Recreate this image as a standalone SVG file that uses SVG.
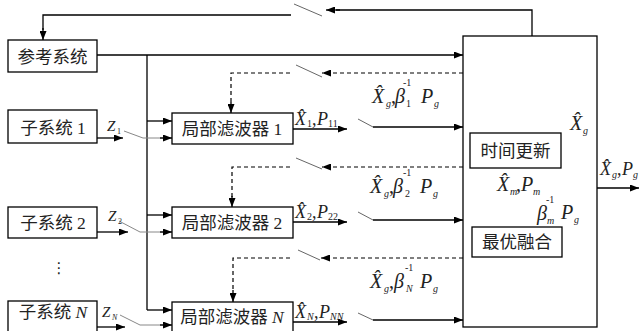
<svg xmlns="http://www.w3.org/2000/svg" width="639" height="331" viewBox="0 0 639 331">
<defs>
<marker id="ah" markerWidth="9" markerHeight="7" refX="9" refY="3.5" orient="auto" markerUnits="userSpaceOnUse">
<path d="M0,0 L9,3.5 L0,7 z" fill="#000"/>
</marker>
<marker id="ahb" markerWidth="10" markerHeight="10" refX="10" refY="5" orient="auto" markerUnits="userSpaceOnUse">
<path d="M0,0 L10,5 L0,10 z" fill="#000"/>
</marker>
</defs>
<style>
.box{fill:#fff;stroke:#000;stroke-width:1.3}
.ln{fill:none;stroke:#000;stroke-width:1.3}
.ar{fill:none;stroke:#000;stroke-width:1.3;marker-end:url(#ah)}
.da{fill:none;stroke:#000;stroke-width:1.2;stroke-dasharray:4,3}
.dar{fill:none;stroke:#000;stroke-width:1.2;stroke-dasharray:4,3;marker-end:url(#ah)}
.sw{fill:none;stroke:#555;stroke-width:0.9}
.gz{fill:none;stroke:#888;stroke-width:1}
.cn{font-family:"Liberation Serif","Noto Sans CJK SC",serif;font-size:17.5px;fill:#222;text-anchor:middle}
.m{font-family:"Liberation Serif",serif;font-style:italic;font-size:20px;fill:#222}
.m2{font-family:"Liberation Serif",serif;font-style:italic;font-size:18px;fill:#222}
.z{font-family:"Liberation Serif",serif;font-style:italic;font-size:15px;fill:#222}
.r{font-style:normal}
.s{font-size:10px}
.t{font-size:8px}
</style>

<g id="connectors">
<path class="ln" d="M532,36 V10 H336"/>
<path class="ar" d="M340,10 H326"/>
<path class="sw" d="M294,4 L322,16"/>
<path class="ln" d="M291,15 H43 V30"/>
<path class="ar" d="M43,28 V40"/>
<path class="ar" d="M97,55 H463"/>
<path class="ln" d="M147,55 V310"/>
<path class="ar" d="M147,121 H172"/>
<path class="ar" d="M147,215 H172"/>
<path class="ar" d="M147,310 H172"/>
<path class="ar" d="M97,138 H123"/>
<path class="gz" d="M124,131 L143,138 H165"/>
<path class="ar" d="M160,138 H172"/>
<path class="ar" d="M97,232 H128"/>
<path class="gz" d="M119,221 L140,232 H165"/>
<path class="ar" d="M160,232 H172"/>
<path class="ar" d="M97,327 H125"/>
<path class="gz" d="M120,315 L140,325 H165"/>
<path class="ar" d="M160,325 H172"/>
<path class="ar" d="M293,129 H347"/>
<path class="sw" d="M358,119 L373,127"/>
<path class="ar" d="M373,127 H463"/>
<path class="ar" d="M293,222 H347"/>
<path class="sw" d="M358,212 L373,220"/>
<path class="ar" d="M373,220 H463"/>
<path class="ar" d="M293,322 H347"/>
<path class="sw" d="M358,313 L373,320"/>
<path class="ar" d="M373,320 H463"/>
<path class="dar" d="M463,73 H322"/>
<path class="sw" d="M296,65 L322,77"/>
<path class="da" d="M290,73 H231 V104"/>
<path class="ar" d="M231,102 V113"/>
<path class="dar" d="M463,167 H322"/>
<path class="sw" d="M296,158 L322,169"/>
<path class="da" d="M290,167 H232 V198"/>
<path class="ar" d="M232,196 V207"/>
<path class="dar" d="M463,258 H321"/>
<path class="sw" d="M298,250 L320,260"/>
<path class="da" d="M290,258 H233 V292"/>
<path class="ar" d="M233,290 V302"/>
<path class="ar" d="M496,168 V227" style="marker-end:url(#ahb)"/>
<path class="ln" d="M562,242 H589 V147 H572"/>
<path class="ar" d="M574,147 H562"/>
<path class="ar" d="M597,188 H639"/>
</g>

<g id="ref-system"><rect class="box" x="8" y="40" width="89" height="32"/><text class="cn" x="52.5" y="63">参考系统</text></g>
<g id="subsystem-1"><rect class="box" x="8" y="110" width="89" height="33"/><text class="cn" x="53" y="134">子系统 1</text></g>
<g id="subsystem-2"><rect class="box" x="8" y="207" width="89" height="31"/><text class="cn" x="53" y="229">子系统 2</text></g>
<g id="dots"><text x="59" y="273" style="font-family:'DejaVu Sans',sans-serif;font-size:15px;fill:#222;text-anchor:middle">⋮</text></g>
<g id="subsystem-n"><rect class="box" x="8" y="301" width="89" height="40"/><text class="cn" x="53" y="318">子系统 <tspan font-style="italic">N</tspan></text></g>

<g id="local-filter-1"><rect class="box" x="172" y="113" width="121" height="31"/><text class="cn" x="232" y="135">局部滤波器 1</text></g>
<g id="local-filter-2"><rect class="box" x="172" y="207" width="121" height="31"/><text class="cn" x="232" y="229">局部滤波器 2</text></g>
<g id="local-filter-n"><rect class="box" x="172" y="302" width="121" height="40"/><text class="cn" x="232" y="323">局部滤波器 <tspan font-style="italic">N</tspan></text></g>

<g id="master-filter"><rect class="box" x="463" y="36" width="134" height="291"/></g>
<g id="time-update"><rect class="box" x="470" y="133" width="91" height="35"/><text class="cn" x="515.5" y="157">时间更新</text></g>
<g id="optimal-fusion"><rect class="box" x="472" y="227" width="90" height="30"/><text class="cn" x="517" y="248">最优融合</text></g>

<g id="labels">
<text class="z" x="107" y="131">Z<tspan class="t r" x="117" y="134">1</tspan></text>
<text class="z" x="108" y="221">Z<tspan class="t r" x="118" y="224">2</tspan></text>
<text class="z" x="102" y="317">Z<tspan class="t" x="112" y="320">N</tspan></text>

<text class="m2" x="295" y="125">X̂<tspan class="s r" x="307" y="127">1</tspan><tspan class="r" x="312" y="125">,</tspan><tspan x="317" y="125">P</tspan><tspan class="s r" x="328" y="127">11</tspan></text>
<text class="m2" x="295" y="218">X̂<tspan class="s r" x="307" y="220">2</tspan><tspan class="r" x="312" y="218">,</tspan><tspan x="317" y="218">P</tspan><tspan class="s r" x="328" y="220">22</tspan></text>
<text class="m2" x="295" y="318">X̂<tspan class="s" x="307" y="320">N</tspan><tspan class="r" x="314" y="318">,</tspan><tspan x="319" y="318">P</tspan><tspan class="s" x="330" y="320">NN</tspan></text>

<text class="m" x="372" y="103">X̂<tspan class="s" x="386" y="107">g</tspan><tspan class="r" x="391" y="103">,</tspan><tspan x="395" y="103">β</tspan><tspan class="s r" x="403" y="86">-1</tspan><tspan class="s r" x="406" y="107">1</tspan><tspan x="421" y="103">P</tspan><tspan class="s" x="434" y="107">g</tspan></text>
<text class="m" x="370" y="193">X̂<tspan class="s" x="384" y="197">g</tspan><tspan class="r" x="389" y="193">,</tspan><tspan x="393" y="193">β</tspan><tspan class="s r" x="403" y="176">-1</tspan><tspan class="s r" x="405" y="197">2</tspan><tspan x="420" y="193">P</tspan><tspan class="s" x="433" y="197">g</tspan></text>
<text class="m" x="370" y="288">X̂<tspan class="s" x="384" y="292">g</tspan><tspan class="r" x="389" y="288">,</tspan><tspan x="394" y="288">β</tspan><tspan class="s r" x="405" y="271">-1</tspan><tspan class="s" x="406" y="292">N</tspan><tspan x="420" y="288">P</tspan><tspan class="s" x="433" y="292">g</tspan></text>

<text class="m" x="570" y="130">X̂<tspan class="s" x="583" y="134">g</tspan></text>
<text class="m" x="497" y="191">X̂<tspan class="s" x="510" y="195">m</tspan><tspan class="r" x="516" y="191">,</tspan><tspan x="521" y="191">P</tspan><tspan class="s" x="533" y="195">m</tspan></text>
<text class="m" x="537" y="220">β<tspan class="s r" x="546" y="203">-1</tspan><tspan class="s" x="547" y="224">m</tspan><tspan x="561" y="219">P</tspan><tspan class="s" x="574" y="223">g</tspan></text>
<text class="m2" x="600" y="175">X̂<tspan class="s" x="612" y="178">g</tspan><tspan class="r" x="617" y="175">,</tspan><tspan x="622" y="175">P</tspan><tspan class="s" x="633" y="178">g</tspan></text>
</g>
</svg>
